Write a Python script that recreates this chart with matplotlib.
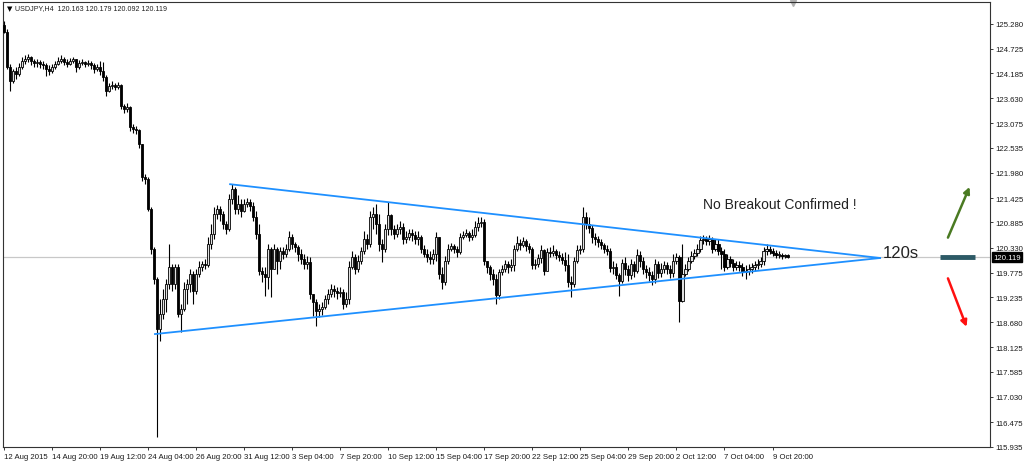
import numpy as np
import matplotlib
matplotlib.use('Agg')
import matplotlib.pyplot as plt

plt.rcParams['font.family'] = ['Liberation Sans', 'DejaVu Sans']

# USDJPY H4 bars (one row = 16 bars = one date tick)
first_open = 125.25
closes = [
    125.09, 124.32, 124.01, 124.23, 124.16, 124.32, 124.45, 124.50, 124.54, 124.45, 124.41, 124.43, 124.39, 124.36, 124.27, 124.23,
    124.32, 124.39, 124.45, 124.50, 124.43, 124.39, 124.45, 124.50, 124.32, 124.41, 124.43, 124.39, 124.41, 124.36, 124.27, 124.32,
    124.23, 124.10, 123.79, 123.90, 123.92, 123.88, 123.92, 123.46, 123.39, 123.44, 122.99, 122.95, 122.93, 122.62, 121.89, 121.85,
    121.18, 120.30, 119.64, 118.53, 118.86, 119.19, 119.53, 119.90, 119.53, 119.90, 118.86, 118.97, 119.42, 119.53, 119.75, 119.37,
    119.75, 119.90, 119.97, 119.95, 120.41, 120.63, 121.07, 121.18, 121.07, 120.85, 120.74, 121.40, 121.62, 121.18, 121.29, 121.14,
    121.29, 121.34, 121.25, 121.01, 120.63, 119.81, 119.75, 119.68, 120.30, 119.86, 120.30, 120.03, 120.25, 120.19, 120.30, 120.56,
    120.41, 120.34, 120.19, 120.08, 119.97, 120.01, 119.30, 119.13, 118.93, 118.97, 119.02, 119.19, 119.30, 119.42, 119.37, 119.33,
    119.35, 119.08, 119.19, 119.90, 120.12, 119.86, 120.03, 120.25, 120.52, 120.41, 121.01, 121.07, 120.85, 120.41, 120.30, 120.74,
    121.05, 120.74, 120.63, 120.74, 120.78, 120.52, 120.56, 120.65, 120.61, 120.52, 120.56, 120.30, 120.19, 120.12, 120.08, 120.19,
    120.56, 119.75, 119.57, 120.03, 120.30, 120.37, 120.30, 120.23, 120.56, 120.61, 120.65, 120.56, 120.61, 120.78, 120.87, 120.90,
    120.03, 119.90, 119.75, 119.64, 119.28, 119.79, 119.86, 119.97, 119.90, 119.95, 120.30, 120.43, 120.39, 120.48, 120.37, 120.30,
    119.95, 119.97, 120.10, 120.28, 119.81, 120.23, 120.21, 120.25, 120.17, 120.12, 120.06, 119.95, 119.57, 119.53, 120.03, 120.28,
    120.30, 121.01, 120.85, 120.76, 120.56, 120.52, 120.45, 120.39, 120.30, 120.25, 119.88, 119.90, 119.72, 119.59, 119.99, 119.86,
    119.72, 119.97, 119.81, 120.17, 120.03, 119.86, 119.79, 119.72, 119.64, 119.97, 119.77, 119.86, 119.95, 119.86, 119.77, 120.03,
    120.12, 119.15, 119.75, 119.86, 120.03, 120.14, 120.21, 120.30, 120.50, 120.52, 120.48, 120.52, 120.30, 120.41, 120.25, 120.19,
    119.90, 120.08, 119.99, 119.90, 119.95, 119.90, 119.79, 119.81, 119.86, 119.90, 119.95, 119.97, 120.03, 120.25, 120.30, 120.25,
    120.21, 120.17, 120.17, 120.14, 120.163, 120.119,
]
highs = [
    125.34, 125.16, 124.39, 124.27, 124.32, 124.41, 124.54, 124.58, 124.61, 124.56, 124.50, 124.50, 124.47, 124.45, 124.41, 124.36,
    124.39, 124.45, 124.54, 124.58, 124.54, 124.50, 124.52, 124.54, 124.50, 124.47, 124.50, 124.45, 124.47, 124.45, 124.41, 124.39,
    124.45, 124.43, 124.14, 123.97, 124.01, 123.97, 123.99, 123.94, 123.50, 123.52, 123.46, 123.06, 123.02, 122.95, 122.62, 121.96,
    121.89, 121.23, 120.34, 119.68, 119.19, 119.42, 119.64, 120.41, 119.97, 119.97, 119.97, 119.08, 119.57, 119.64, 119.86, 119.81,
    119.86, 120.03, 120.03, 120.08, 120.56, 120.85, 121.23, 121.27, 121.25, 121.14, 120.92, 121.51, 121.73, 121.67, 121.49, 121.40,
    121.40, 121.43, 121.40, 121.34, 121.14, 120.85, 119.90, 119.90, 120.41, 120.34, 120.41, 120.34, 120.34, 120.34, 120.41, 120.70,
    120.63, 120.45, 120.39, 120.30, 120.19, 120.14, 120.12, 119.30, 119.19, 119.08, 119.13, 119.28, 119.42, 119.53, 119.50, 119.46,
    119.46, 119.42, 119.35, 120.03, 120.25, 120.19, 120.17, 120.34, 120.70, 120.63, 121.14, 121.23, 121.29, 121.07, 120.52, 120.85,
    121.34, 121.07, 120.83, 120.85, 120.92, 120.87, 120.70, 120.74, 120.74, 120.70, 120.70, 120.61, 120.39, 120.30, 120.25, 120.30,
    120.67, 120.56, 119.90, 120.14, 120.41, 120.43, 120.41, 120.37, 120.65, 120.70, 120.74, 120.70, 120.74, 120.92, 121.01, 121.01,
    120.96, 120.03, 119.95, 119.86, 119.75, 119.86, 119.95, 120.06, 120.03, 120.08, 120.39, 120.59, 120.52, 120.56, 120.52, 120.43,
    120.34, 120.08, 120.19, 120.39, 120.30, 120.32, 120.34, 120.39, 120.30, 120.25, 120.21, 120.23, 120.19, 119.70, 120.12, 120.39,
    120.39, 121.23, 121.12, 121.01, 120.83, 120.65, 120.59, 120.52, 120.43, 120.39, 120.32, 120.03, 119.99, 119.77, 120.08, 120.12,
    119.95, 120.08, 120.03, 120.30, 120.25, 120.12, 119.95, 119.90, 119.81, 120.08, 120.03, 119.99, 120.03, 120.01, 119.95, 120.19,
    120.21, 120.17, 120.41, 119.97, 120.12, 120.25, 120.30, 120.41, 120.59, 120.61, 120.59, 120.61, 120.56, 120.52, 120.52, 120.34,
    120.30, 120.19, 120.14, 120.08, 120.03, 120.03, 119.99, 119.95, 119.97, 119.99, 120.03, 120.08, 120.12, 120.34, 120.41, 120.37,
    120.32, 120.28, 120.25, 120.21, 120.19, 120.179,
]
lows = [
    125.07, 124.27, 123.79, 123.97, 124.05, 124.12, 124.27, 124.39, 124.43, 124.36, 124.32, 124.32, 124.30, 124.27, 124.12, 124.14,
    124.19, 124.27, 124.36, 124.41, 124.36, 124.32, 124.36, 124.41, 124.21, 124.27, 124.36, 124.32, 124.34, 124.27, 124.19, 124.23,
    124.14, 124.01, 123.68, 123.77, 123.83, 123.81, 123.83, 123.39, 123.30, 123.33, 122.91, 122.86, 122.84, 122.53, 121.80, 121.73,
    121.14, 120.19, 119.53, 116.15, 118.27, 118.75, 118.91, 119.42, 119.37, 119.42, 118.80, 118.47, 118.93, 119.08, 119.35, 119.08,
    119.30, 119.68, 119.81, 119.86, 119.90, 120.30, 120.52, 120.96, 120.92, 120.74, 120.63, 120.70, 121.29, 121.07, 121.07, 121.01,
    121.12, 121.23, 121.14, 120.92, 120.52, 119.72, 119.57, 119.26, 119.42, 119.24, 120.12, 119.75, 119.86, 120.08, 120.12, 120.25,
    120.30, 120.23, 120.03, 119.97, 119.86, 119.86, 119.19, 118.82, 118.60, 118.80, 118.84, 118.97, 119.08, 119.24, 119.24, 119.19,
    119.24, 118.97, 119.02, 119.08, 119.86, 119.75, 119.79, 119.97, 120.19, 120.30, 120.34, 120.74, 120.63, 120.25, 120.01, 120.23,
    120.61, 120.61, 120.52, 120.56, 120.63, 120.41, 120.43, 120.50, 120.48, 120.41, 120.39, 120.21, 120.12, 120.01, 119.97, 119.97,
    120.03, 119.64, 119.42, 119.50, 119.97, 120.25, 120.21, 120.12, 120.19, 120.52, 120.56, 120.48, 120.50, 120.56, 120.70, 120.78,
    119.95, 119.77, 119.61, 119.50, 119.08, 119.19, 119.72, 119.79, 119.77, 119.81, 119.81, 120.25, 120.28, 120.34, 120.25, 120.21,
    119.86, 119.86, 119.90, 119.99, 119.72, 120.03, 120.12, 120.14, 120.08, 120.03, 119.97, 119.81, 119.46, 119.24, 119.46, 119.99,
    120.19, 120.23, 120.74, 120.65, 120.43, 120.39, 120.34, 120.30, 120.21, 120.17, 119.79, 119.75, 119.64, 119.26, 119.55, 119.72,
    119.59, 119.64, 119.68, 119.77, 119.90, 119.75, 119.66, 119.59, 119.50, 119.55, 119.66, 119.68, 119.77, 119.75, 119.66, 119.68,
    119.97, 118.69, 119.13, 119.70, 119.81, 119.99, 120.08, 120.14, 120.23, 120.41, 120.39, 120.39, 120.21, 120.25, 120.17, 119.86,
    119.81, 119.86, 119.90, 119.81, 119.83, 119.81, 119.70, 119.64, 119.72, 119.77, 119.81, 119.86, 119.90, 119.95, 120.17, 120.19,
    120.14, 120.10, 120.10, 120.08, 120.10, 120.092,
]

date_labels = ["12 Aug 2015", "14 Aug 20:00", "19 Aug 12:00", "24 Aug 04:00", "26 Aug 20:00",
               "31 Aug 12:00", "3 Sep 04:00", "7 Sep 20:00", "10 Sep 12:00", "15 Sep 04:00",
               "17 Sep 20:00", "22 Sep 12:00", "25 Sep 04:00", "29 Sep 20:00", "2 Oct 12:00",
               "7 Oct 04:00", "9 Oct 20:00"]
bars_per_label = 16
price_ticks = [125.280, 124.725, 124.185, 123.630, 123.075, 122.535, 121.980, 121.425, 120.885,
               120.330, 119.775, 119.235, 118.680, 118.125, 117.585, 117.030, 116.475, 115.935]
last_price = 120.119

# drawn trendlines (bar index, price)
upper_line = ([75.4, 291.8], [121.73, 120.10])
lower_line = ([50.4, 291.8], [118.42, 120.10])

closes = np.array(closes)
highs = np.array(highs)
lows = np.array(lows)
opens = np.concatenate([[first_open], closes[:-1]])
idx = np.arange(len(closes))

fig = plt.figure(figsize=(10.24, 4.64), dpi=100)
ax = fig.add_axes([3 / 1024, 16 / 464, 987 / 1024, 445 / 464])

ax.axhline(last_price, color='#c8c8c8', lw=0.9, zorder=1)

top = np.maximum(opens, closes)
bot = np.minimum(opens, closes)
ax.vlines(idx, np.minimum(lows, bot), np.maximum(highs, top), color='black', lw=0.8, zorder=2)
up = closes >= opens
h = np.maximum(top - bot, 0.008)
ax.bar(idx[up], h[up], bottom=bot[up], width=0.72, color='#e0e0e0', edgecolor='black', lw=0.6, zorder=3)
ax.bar(idx[~up], h[~up], bottom=bot[~up], width=0.72, color='black', edgecolor='black', lw=0.6, zorder=3)

ax.plot(*upper_line, color='#1e90ff', lw=1.3, zorder=4)
ax.plot(*lower_line, color='#1e90ff', lw=1.3, zorder=4)

ax.text(232.8, 121.29, "No Breakout Confirmed !", fontsize=10, color='#222222', va='center', ha='left')
ax.text(292.7, 120.22, "120s", fontsize=12, color='#222222', va='center', ha='left')
ax.plot([311.7, 323.4], [120.12, 120.12], color='#2d5a66', lw=3.5, solid_capstyle='butt', zorder=4)
ax.annotate("", xy=(321.6, 121.67), xytext=(314.4, 120.55),
            arrowprops=dict(arrowstyle='-|>', color='#4a7a22', lw=1.8, mutation_scale=9, shrinkA=0, shrinkB=0))
ax.annotate("", xy=(320.6, 118.58), xytext=(314.4, 119.65),
            arrowprops=dict(arrowstyle='-|>', color='#ff1010', lw=1.8, mutation_scale=9, shrinkA=0, shrinkB=0))

ax.set_xlim(-0.2, 328.4)
ax.set_ylim(115.925, 125.755)

ax.yaxis.tick_right()
ax.set_yticks(price_ticks)
ax.set_yticklabels([f"{v:.3f}" for v in price_ticks])
ax.set_xticks(np.arange(len(date_labels)) * bars_per_label)
ax.set_xticklabels(date_labels)
for lbl in ax.get_xticklabels():
    lbl.set_ha('left')
ax.tick_params(axis='both', labelsize=5.6, colors='#1a1a1a', length=2.5, width=0.6, pad=1.5)
ax.tick_params(axis='x', pad=2)
for s in ax.spines.values():
    s.set_color('#333333')
    s.set_linewidth(0.8)

ax.annotate(f"{last_price:.3f}", xy=(1.0, last_price), xycoords=('axes fraction', 'data'),
            xytext=(2.5, 0), textcoords='offset points', va='center', ha='left',
            fontsize=5.6, color='white',
            bbox=dict(boxstyle='square,pad=0.15', fc='black', ec='black'))

fig.text(7 / 1024, 1 - 9 / 464, "\u25bc", fontsize=5, va='center', ha='left', family='DejaVu Sans')
fig.text(15 / 1024, 1 - 9 / 464, "USDJPY,H4  120.163 120.179 120.092 120.119",
         fontsize=5.1, va='center', ha='left', color='#222222')
ax.plot([262.8], [125.74], marker='v', color='#b0b0b0', ms=5, clip_on=False)

fig.savefig('out.png', dpi=100, facecolor='white')
